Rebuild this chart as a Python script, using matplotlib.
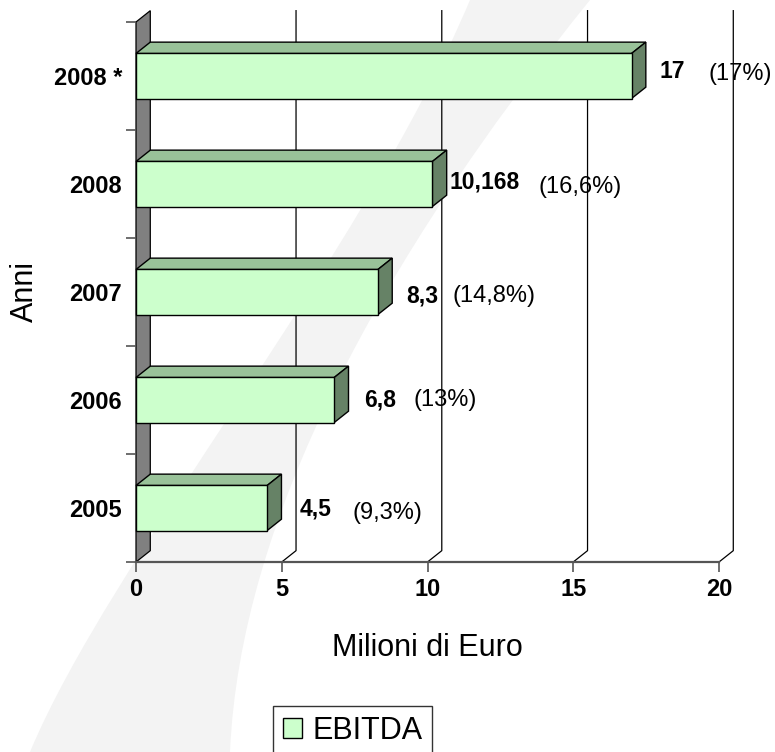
import matplotlib
matplotlib.use('Agg')
import matplotlib.pyplot as plt
from matplotlib.patches import Polygon, Rectangle, PathPatch, Patch
from matplotlib.path import Path
from matplotlib import transforms

plt.rcParams['font.family'] = ['Liberation Sans', 'DejaVu Sans']

# data (bottom to top)
anni = ['2005', '2006', '2007', '2008', '2008 *']
ebitda = [4.5, 6.8, 8.3, 10.168, 17]
val_txt = ['4,5', '6,8', '8,3', '10,168', '17']
pct_txt = ['(9,3%)', '(13%)', '(14,8%)', '(16,6%)', '(17%)']
xticks = [0, 5, 10, 15, 20]

# label offsets from bar end, in pixels (x right, y up)
val_off = [(32, -1), (30, 0), (28, -4), (17, 2), (28, 5)]
pct_off = [(85, -5), (79, 0), (75, -4), (106, -3), (77, 2)]

W, H = 775, 752
fig = plt.figure(figsize=(W / 100, H / 100), dpi=100)
fig.patch.set_facecolor('white')

# faint grey swoosh in the background
def fp(x, y):
    return (x / W, 1 - y / H)

verts = [fp(30, 752), fp(110, 560), fp(360, 260), fp(470, 0),
         fp(590, 0), fp(380, 260), fp(240, 520), fp(230, 752), fp(30, 752)]
codes = [Path.MOVETO, Path.CURVE4, Path.CURVE4, Path.CURVE4,
         Path.LINETO, Path.CURVE4, Path.CURVE4, Path.CURVE4, Path.CLOSEPOLY]
fig.patches.append(PathPatch(Path(verts, codes), transform=fig.transFigure,
                             facecolor='#f3f3f3', edgecolor='none', zorder=-10))

ax = fig.add_axes([136 / W, 1 - 562 / H, (719 - 136) / W, (562 - 22) / H])
ax.set_facecolor('none')
ax.set_xlim(0, 20)
ax.set_ylim(-0.5, 4.5)

DX, DY = 0.49, 0.105   # depth offset
h = 0.417
front_c = '#ccffcc'
top_c = '#99c299'
side_c = '#668266'

# left wall
ax.add_patch(Polygon([(0, -0.5), (0, 4.5), (DX, 4.5 + DY), (DX, -0.5 + DY)],
                     closed=True, facecolor='#808080', edgecolor='black',
                     lw=0.9, clip_on=False, zorder=1))

# gridlines on back wall with floor connector
for xv in xticks[1:]:
    ax.plot([xv, xv + DX, xv + DX], [-0.5, -0.5 + DY, 4.5 + DY],
            color='black', lw=0.9, clip_on=False, zorder=1)

# 3d bars
for i, v in enumerate(ebitda):
    y0, y1 = i - h / 2, i + h / 2
    ax.add_patch(Polygon([(0, y1), (DX, y1 + DY), (v + DX, y1 + DY), (v, y1)],
                         closed=True, facecolor=top_c, edgecolor='black',
                         lw=1, clip_on=False, zorder=3))
    ax.add_patch(Polygon([(v, y0), (v, y1), (v + DX, y1 + DY), (v + DX, y0 + DY)],
                         closed=True, facecolor=side_c, edgecolor='black',
                         lw=1, clip_on=False, zorder=3))
    ax.add_patch(Rectangle((0, y0), v, h, facecolor=front_c, edgecolor='black',
                           lw=1, clip_on=False, zorder=4))

    tr = transforms.offset_copy(ax.transData, fig, x=val_off[i][0],
                                y=val_off[i][1], units='dots')
    ax.text(v, i, val_txt[i], transform=tr, fontsize=16.5, fontweight='bold',
            ha='left', va='center', zorder=5)
    tr = transforms.offset_copy(ax.transData, fig, x=pct_off[i][0],
                                y=pct_off[i][1], units='dots')
    ax.text(v, i, pct_txt[i], transform=tr, fontsize=17,
            ha='left', va='center', zorder=5)

# axes styling
for s in ['top', 'right', 'left']:
    ax.spines[s].set_visible(False)
ax.spines['bottom'].set_color('#555555')
ax.spines['bottom'].set_linewidth(1.6)
ax.spines['bottom'].set_zorder(2)

ax.set_xticks(xticks)
ax.set_xticklabels([str(t) for t in xticks], fontsize=17, fontweight='bold')
ax.tick_params(axis='x', length=7.5, width=1.2, color='#555555', pad=4)

ax.set_yticks(range(len(anni)))
ax.set_yticklabels(anni, fontsize=17, fontweight='bold')
ax.set_yticks([i - 0.5 for i in range(len(anni) + 1)], minor=True)
ax.tick_params(axis='y', which='major', length=0, pad=10)
ax.tick_params(axis='y', which='minor', length=7.5, width=1.2, color='#555555')

fig.text(427 / W, 1 - 648 / H, 'Milioni di Euro', fontsize=22,
         ha='center', va='center')
fig.text(25 / W, 1 - 292 / H, 'Anni', fontsize=22, rotation=90,
         ha='center', va='center')

fig.legend(handles=[Patch(facecolor=front_c, edgecolor='black', lw=1,
                          label='EBITDA')],
           loc='upper left', bbox_to_anchor=(273 / W, 1 - 706 / H),
           frameon=True, fancybox=False, edgecolor='#333333', framealpha=1,
           fontsize=22, handlelength=0.62, handleheight=0.62,
           handletextpad=0.33, borderpad=0.33, borderaxespad=0)

fig.savefig('out.png', dpi=100)
